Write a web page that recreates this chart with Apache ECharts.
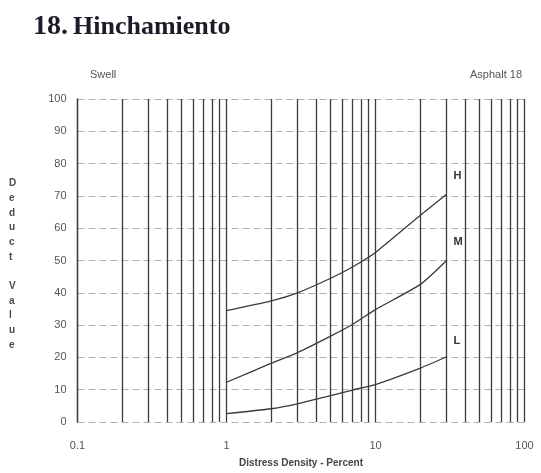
<!DOCTYPE html>
<html>
<head>
<meta charset="utf-8">
<script src="https://cdn.jsdelivr.net/npm/echarts@6/dist/echarts.min.js"></script>
<style>
  html, body { margin: 0; padding: 0; background: #ffffff; }
  #chart { width: 541px; height: 473px; }
</style>
</head>
<body>
<div id="chart"></div>
<script>
// Deduct value curves for swell (asphalt pavement, distress 18)
const densityH = [1, 2, 3, 5, 7, 10, 20, 30];
const valuesH  = [34.5, 37.5, 40, 44.5, 48, 52.5, 64, 70.5];
const densityM = [1, 2, 3, 5, 7, 10, 20, 30];
const valuesM  = [12.3, 18.2, 21.5, 26.6, 30.2, 34.8, 42.6, 50];
const densityL = [1, 2, 3, 5, 7, 10, 20, 30];
const valuesL  = [2.6, 4.1, 5.6, 8.2, 9.9, 11.6, 16.7, 20.2];

// Log-paper vertical rules (every unit step inside each decade)
const logRules = [
  0.1, 0.2, 0.3, 0.4, 0.5, 0.6, 0.7, 0.8, 0.9,
  1, 2, 3, 4, 5, 6, 7, 8, 9,
  10, 20, 30, 40, 50, 60, 70, 80, 90,
  100
];
const xTickLabels = { '0.1': '0.1', '1': '1', '10': '10', '100': '100' };
const yTicks = [0, 10, 20, 30, 40, 50, 60, 70, 80, 90, 100];

const pairs = (xs, ys) => xs.map((x, i) => [x, ys[i]]);

function curve(name, xs, ys, labelOffset) {
  return {
    name: name,
    type: 'line',
    data: pairs(xs, ys),
    smooth: 0.2,
    symbol: 'none',
    lineStyle: { color: '#3a3a3a', width: 1.3 },
    endLabel: {
      show: true,
      formatter: name,
      offset: labelOffset,
      color: '#333',
      fontSize: 11,
      fontWeight: 'bold',
      fontFamily: 'Liberation Sans, Arial, sans-serif'
    },
    z: 5
  };
}

const chart = echarts.init(document.getElementById('chart'), null, { renderer: 'canvas' });

const series = [
  curve('H', densityH, valuesH, [-1, -18]),
  curve('M', densityM, valuesM, [-1, -19]),
  curve('L', densityL, valuesL, [-1, -16]),
  {
    name: 'rules',
    type: 'line',
    data: [],
    silent: true,
    clip: false,
    markLine: {
      silent: true,
      symbol: 'none',
      label: { show: false },
      lineStyle: { color: '#3c3c3c', width: 1.3, type: 'solid' },
      data: logRules.map(v => ({ xAxis: v }))
    }
  }
];

chart.setOption({
  backgroundColor: '#ffffff',
  animation: false,
  grid: { left: 77.5, right: 16.5, top: 99, bottom: 48 },
  title: {
    text: '{n|18.} {t|Hinchamiento}',
    left: 28,
    top: 8,
    textStyle: {
      rich: {
        n: { fontFamily: 'Liberation Serif, Times New Roman, serif', fontSize: 28, fontWeight: 'bold', color: '#1c1c28' },
        t: { fontFamily: 'Liberation Serif, Times New Roman, serif', fontSize: 26, fontWeight: 'bold', color: '#1c1c28' }
      }
    }
  },
  xAxis: {
    type: 'log',
    logBase: 10,
    min: 0.1,
    max: 100,
    name: 'Distress Density - Percent',
    nameLocation: 'middle',
    nameGap: 36,
    nameTextStyle: {
      fontFamily: 'Liberation Sans, Arial, sans-serif',
      fontSize: 10,
      fontWeight: 'bold',
      color: '#444'
    },
    axisLine: { show: false },
    axisTick: { show: false },
    splitLine: { show: false },
    axisLabel: {
      margin: 18,
      fontFamily: 'Liberation Sans, Arial, sans-serif',
      fontSize: 11,
      color: '#555',
      formatter: v => {
        const k = String(Math.round(v * 10) / 10);
        return xTickLabels[k] || '';
      }
    }
  },
  yAxis: {
    type: 'value',
    min: 0,
    max: 100,
    interval: 10,
    axisLine: {
      show: true,
      lineStyle: { color: '#3c3c3c', width: 1.3 }
    },
    axisTick: { show: false },
    axisLabel: {
      margin: 11,
      fontFamily: 'Liberation Sans, Arial, sans-serif',
      fontSize: 11,
      color: '#555',
      formatter: v => (yTicks.indexOf(v) >= 0 ? String(v) : '')
    },
    splitLine: {
      show: true,
      lineStyle: { color: '#b0b0b0', width: 1, type: [7, 4] }
    }
  },
  graphic: [
    {
      type: 'text',
      left: 90,
      top: 69,
      style: {
        text: 'Swell',
        font: '11px "Liberation Sans", Arial, sans-serif',
        fill: '#555'
      }
    },
    {
      type: 'text',
      right: 19,
      top: 69,
      style: {
        text: 'Asphalt 18',
        font: '11px "Liberation Sans", Arial, sans-serif',
        fill: '#555'
      }
    },
    {
      type: 'text',
      left: 9,
      top: 176,
      style: {
        text: 'D\ne\nd\nu\nc\nt\n\nV\na\nl\nu\ne',
        font: 'bold 10px "Liberation Sans", Arial, sans-serif',
        lineHeight: 14.7,
        fill: '#4a4a4a',
        align: 'center'
      }
    }
  ],
  series: series
});
</script>
</body>
</html>
